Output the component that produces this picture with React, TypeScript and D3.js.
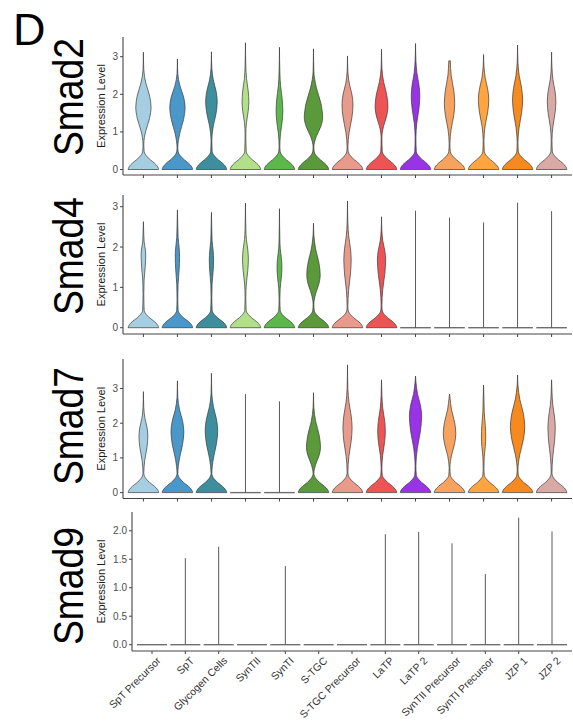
import React from "react";
import * as d3 from "d3";

// Cell types along the x axis, shared by every gene panel
const cellTypes = [
  "SpT Precursor", "SpT", "Glycogen Cells", "SynTII", "SynTI", "S-TGC",
  "S-TGC Precursor", "LaTP", "LaTP 2", "SynTII Precursor", "SynTI Precursor",
  "JZP 1", "JZP 2",
];
const cellColors = [
  "#a6cee3", "#4a97c9", "#3d8f9e", "#b2df8a", "#5db84c", "#5a9a3b",
  "#e89a8b", "#ef5454", "#9933e6", "#f7a25f", "#fea53f", "#f78a1e", "#d9a9a6",
];

// Violin summaries per gene: maximum expression, height of the narrow neck
// above the zero-mode, centre of the upper mode, its relative width, and the
// level where the upper mode thins into a tail. A null centre means the cell
// type is (almost) all zeros, drawn as a flat line with a single spike.
const smad2Max = [3.12, 2.94, 3.13, 3.37, 3.25, 3.21, 3.02, 3.2, 3.35, 2.89, 3.06, 3.31, 3.12];
const smad2Neck = [0.68, 0.58, 0.78, 0.95, 0.62, 0.6, 0.6, 0.85, 0.85, 0.7, 0.78, 0.72, 0.78];
const smad2Mode = [1.65, 1.65, 1.8, 1.8, 1.55, 1.38, 1.72, 1.67, 1.95, 1.75, 1.85, 1.85, 1.8];
const smad2ModeWidth = [0.5, 0.5, 0.38, 0.22, 0.22, 0.6, 0.36, 0.42, 0.28, 0.34, 0.34, 0.33, 0.28];
const smad2Upper = [2.65, 2.55, 2.7, 2.75, 2.6, 2.6, 2.6, 2.7, 2.9, 2.89, 2.75, 2.85, 2.7];

const smad4Max = [2.63, 2.92, 2.86, 3.09, 2.95, 2.59, 3.14, 2.75, 2.9, 2.73, 2.61, 3.1, 2.89];
const smad4Neck = [0.85, 0.7, 0.75, 0.75, 0.7, 0.58, 0.52, 0.55, null, null, null, null, null];
const smad4Mode = [1.8, 1.75, 1.68, 1.7, 1.5, 1.3, 1.68, 1.68, null, null, null, null, null];
const smad4ModeWidth = [0.15, 0.14, 0.14, 0.19, 0.16, 0.44, 0.24, 0.27, null, null, null, null, null];
const smad4Upper = [2.3, 2.5, 2.4, 2.45, 2.2, 2.3, 2.6, 2.4, null, null, null, null, null];

const smad7Max = [2.91, 3.22, 3.44, 2.84, 2.63, 2.88, 3.68, 3.25, 3.36, 2.84, 3.1, 3.39, 3.25];
const smad7Neck = [0.56, 0.52, 0.52, null, null, 0.52, 0.6, 0.7, 0.78, 0.72, 0.7, 0.65, 0.56];
const smad7Mode = [1.62, 1.75, 1.78, null, null, 1.3, 1.86, 1.76, 2.2, 1.7, 1.6, 1.9, 1.86];
const smad7ModeWidth = [0.29, 0.42, 0.41, null, null, 0.46, 0.3, 0.25, 0.4, 0.41, 0.14, 0.47, 0.24];
const smad7Upper = [2.45, 2.75, 2.85, null, null, 2.45, 3.0, 2.8, 3.2, 2.75, 2.7, 3.1, 2.9];

const smad9Max = [0, 1.52, 1.72, 0, 1.38, 0, 0, 1.94, 1.98, 1.78, 1.24, 2.23, 1.99];
const smad9Neck = smad9Max.map(() => null);

const countTicks = [0, 1, 2, 3];
const smad9Ticks = [0, 0.5, 1, 1.5, 2];

// Shape of the zero-mode "tent": fraction of its height -> fraction of full width
const tentProfile: [number, number][] = [
  [0, 1], [0.13, 0.95], [0.26, 0.84], [0.45, 0.6], [0.6, 0.38],
  [0.72, 0.25], [0.86, 0.12], [1, 0.05],
];

type Panel = {
  gene: string;
  max: number[];
  neck: (number | null)[];
  mode?: (number | null)[];
  modeWidth?: (number | null)[];
  upper?: (number | null)[];
  ticks: number[];
  fmt: (v: number) => string;
  domain: [number, number];
  range: [number, number];
  axisX: number;
  tent: number;
  labelY: number;
  showNames: boolean;
};

const panels: Panel[] = [
  {
    gene: "Smad2", max: smad2Max, neck: smad2Neck, mode: smad2Mode, modeWidth: smad2ModeWidth,
    upper: smad2Upper, ticks: countTicks, fmt: d3.format("d"), domain: [-0.146, 3.524],
    range: [175, 37], axisX: 123, tent: 0.47, labelY: 97, showNames: false,
  },
  {
    gene: "Smad4", max: smad4Max, neck: smad4Neck, mode: smad4Mode, modeWidth: smad4ModeWidth,
    upper: smad4Upper, ticks: countTicks, fmt: d3.format("d"), domain: [-0.156, 3.29],
    range: [334, 195], axisX: 123, tent: 0.42, labelY: 256, showNames: false,
  },
  {
    gene: "Smad7", max: smad7Max, neck: smad7Neck, mode: smad7Mode, modeWidth: smad7ModeWidth,
    upper: smad7Upper, ticks: countTicks, fmt: d3.format("d"), domain: [-0.17, 3.85],
    range: [498.5, 359], axisX: 123, tent: 0.5, labelY: 426, showNames: false,
  },
  {
    gene: "Smad9", max: smad9Max, neck: smad9Neck, ticks: smad9Ticks, fmt: d3.format(".1f"),
    domain: [-0.111, 2.33], range: [651, 512], axisX: 132, tent: 0.45, labelY: 586, showNames: true,
  },
];

const RIGHT = 572;
const FONT = "'Liberation Sans', Arial, Helvetica, sans-serif";

// Outline knots (expression value, fraction of full half-width) for one violin
function violinKnots(p: Panel, i: number): [number, number][] {
  const knots: [number, number][] = tentProfile.map(([f, w]) => [f * p.tent, w]);
  const top = p.max[i];
  const n = Math.max(p.neck[i] as number, p.tent * 1.08);
  const c = p.mode![i] as number;
  const pk = p.modeWidth![i] as number;
  const up = Math.min(p.upper![i] as number, top);
  knots.push([n, 0.025]);
  knots.push([n + 0.35 * (c - n), Math.max(0.035, 0.3 * pk)]);
  knots.push([n + 0.7 * (c - n), 0.8 * pk]);
  knots.push([c, pk]);
  knots.push([c + 0.3 * (up - c), 0.82 * pk]);
  knots.push([c + 0.65 * (up - c), Math.max(0.035, 0.32 * pk)]);
  if (top - up > 0.02) {
    knots.push([up, 0.025]);
    knots.push([top, 0]);
  } else {
    knots.push([top, 0.05]);
  }
  return knots;
}

function GenePanel({ p }: { p: Panel }) {
  const x = d3.scaleBand<string>().domain(cellTypes).range([p.axisX, RIGHT])
    .paddingInner(0).paddingOuter(0.1);
  const y = d3.scaleLinear().domain(p.domain).range(p.range);
  const half = (x.bandwidth() * 0.9) / 2;
  const [yBottom, yTop] = p.range;
  const midY = (yBottom + yTop) / 2;

  return (
    <g>
      {cellTypes.map((ct, i) => {
        const cx = (x(ct) as number) + x.bandwidth() / 2;
        if (p.neck[i] == null) {
          return (
            <g key={ct}>
              <line x1={cx - half} x2={cx + half} y1={y(0)} y2={y(0)} stroke="#6e6e6e" strokeWidth={1.4} />
              {p.max[i] > 0 && (
                <line x1={cx} x2={cx} y1={y(0)} y2={y(p.max[i])} stroke="#5a5a5a" strokeWidth={1} />
              )}
            </g>
          );
        }
        const area = d3.area<[number, number]>()
          .y((d) => y(d[0]))
          .x0((d) => cx - d[1] * half)
          .x1((d) => cx + d[1] * half)
          .curve(d3.curveMonotoneY);
        return (
          <path key={ct} d={area(violinKnots(p, i)) as string} fill={cellColors[i]}
            stroke="#3a3a3a" strokeWidth={0.7} strokeLinejoin="round" />
        );
      })}

      {/* axes */}
      <line x1={p.axisX} x2={p.axisX} y1={yTop} y2={yBottom} stroke="#444" strokeWidth={1.1} />
      <line x1={p.axisX} x2={RIGHT} y1={yBottom} y2={yBottom} stroke="#444" strokeWidth={1.1} />
      {p.ticks.map((t) => (
        <g key={t}>
          <line x1={p.axisX - 3} x2={p.axisX} y1={y(t)} y2={y(t)} stroke="#444" strokeWidth={1} />
          <text x={p.axisX - 5} y={y(t)} dy="0.35em" textAnchor="end" fontSize={10}
            fontFamily={FONT} fill="#4d4d4d">{p.fmt(t)}</text>
        </g>
      ))}
      {cellTypes.map((ct) => {
        const cx = (x(ct) as number) + x.bandwidth() / 2;
        return (
          <g key={ct}>
            <line x1={cx} x2={cx} y1={yBottom} y2={yBottom + 3} stroke="#444" strokeWidth={1} />
            {p.showNames && (
              <text transform={`translate(${cx + 4},${yBottom + 5}) rotate(-45)`} dy="0.72em"
                textAnchor="end" fontSize={10.5} fontFamily={FONT} fill="#333">{ct}</text>
            )}
          </g>
        );
      })}

      <text transform={`translate(104.5,${midY}) rotate(-90)`} textAnchor="middle" fontSize={11}
        fontFamily={FONT} fill="#1a1a1a">Expression Level</text>
      <text transform={`translate(83,${p.labelY}) rotate(-90)`} textAnchor="middle" fontSize={42}
        fontFamily={FONT} fill="#000" textLength={118} lengthAdjust="spacingAndGlyphs">{p.gene}</text>
    </g>
  );
}

export default function App() {
  return (
    <svg width={573} height={724} viewBox="0 0 573 724"
      style={{ position: "absolute", left: 0, top: 0, background: "#fff", display: "block" }}>
      <rect width={573} height={724} fill="#fff" />
      <text x={13} y={45} fontSize={45} fontFamily={FONT} fill="#000">D</text>
      {panels.map((p) => <GenePanel key={p.gene} p={p} />)}
    </svg>
  );
}
